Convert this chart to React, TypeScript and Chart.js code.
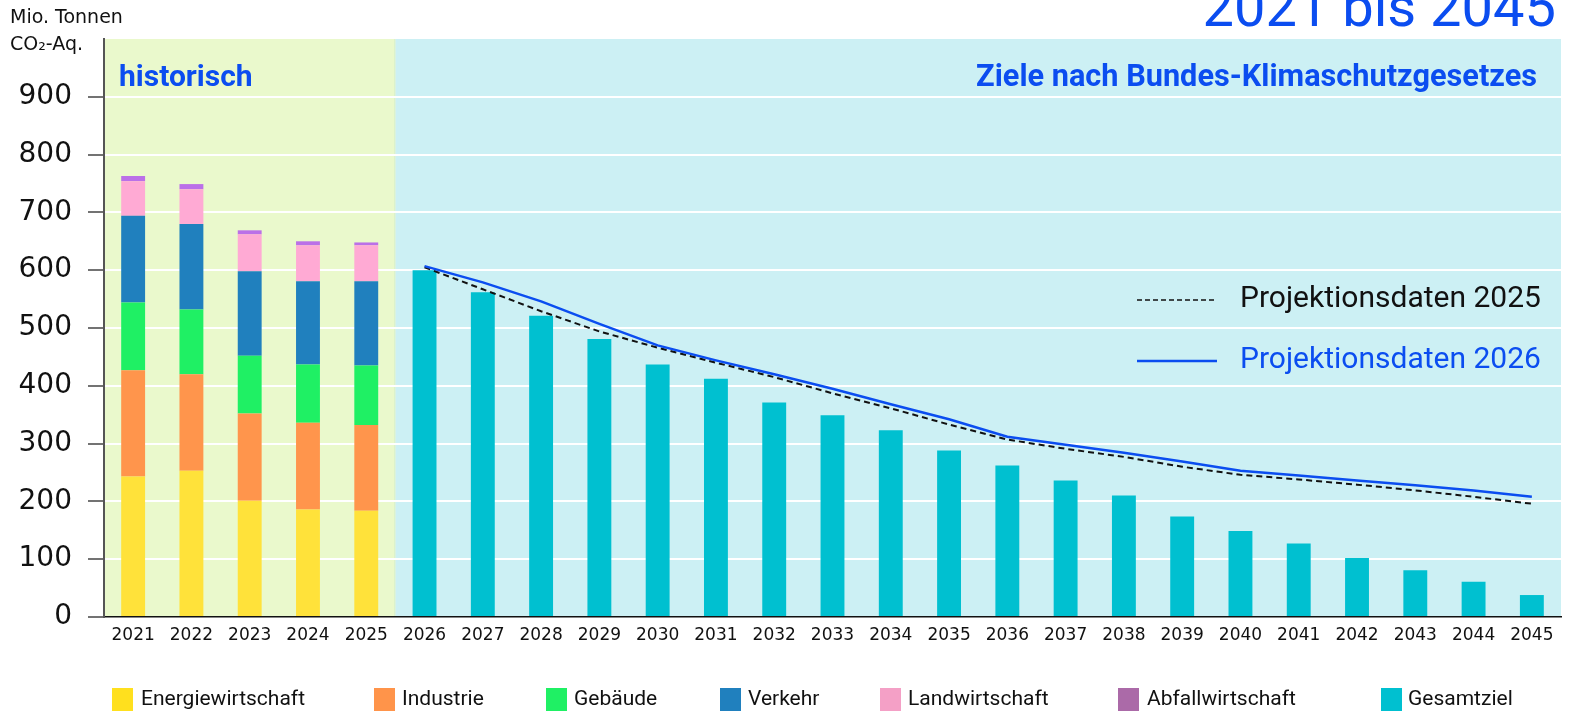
import { useEffect, useRef } from 'react';
import { Chart, registerables } from 'chart.js';

Chart.register(...registerables);

const YEARS = ['2021', '2022', '2023', '2024', '2025', '2026', '2027', '2028', '2029', '2030', '2031', '2032', '2033', '2034', '2035', '2036', '2037', '2038', '2039', '2040', '2041', '2042', '2043', '2044', '2045'];
const ENERGIE = [243, 253, 201, 186, 184];
const INDUSTRIE = [184, 167, 151, 150, 148];
const GEBAEUDE = [117, 112, 100, 101, 103];
const VERKEHR = [150, 148, 146, 144, 146];
const LANDWIRTSCHAFT = [60, 60, 64, 62, 62];
const ABFALL = [9, 9, 7, 7, 5];
const GESAMTZIEL = [600, 562, 521, 481, 437, 412, 371, 349, 323, 288, 262, 236, 210, 174, 149, 127, 102, 81, 61, 38];
const PROJ2025 = [605, 567, 529, 494, 466, 440, 415, 387, 361, 333, 307, 291, 277, 260, 246, 238, 229, 219, 208, 196];
const PROJ2026 = [607, 579, 546, 507, 470, 444, 420, 395, 368, 342, 312, 298, 284, 269, 253, 245, 236, 228, 219, 208];
const Y_TICKS = [0, 100, 200, 300, 400, 500, 600, 700, 800, 900];

const HIST_COUNT = ENERGIE.length;
const FUT_COUNT = GESAMTZIEL.length;
const padHist = (a: number[]) => [...a, ...Array(FUT_COUNT).fill(null)];
const padFut = (a: number[]) => [...Array(HIST_COUNT).fill(null), ...a];

const BLUE = '#0B4DF0';
const FONT = 'Roboto, "Noto Sans", sans-serif';
const WIDE = '"DejaVu Sans", sans-serif';

const SECTORS = [
  { label: 'Energiewirtschaft', data: ENERGIE, color: '#FFE23A', legend: '#FFE01E' },
  { label: 'Industrie', data: INDUSTRIE, color: '#FF954C', legend: '#FF944A' },
  { label: 'Gebäude', data: GEBAEUDE, color: '#1FF064', legend: '#1FF064' },
  { label: 'Verkehr', data: VERKEHR, color: '#2080BE', legend: '#2080BE' },
  { label: 'Landwirtschaft', data: LANDWIRTSCHAFT, color: '#FFAAD4', legend: '#F4A0C6' },
  { label: 'Abfallwirtschaft', data: ABFALL, color: '#BB70E8', legend: '#AB6AA8' },
];

const LEGEND_POS = [
  { box: 112, text: 141 },
  { box: 374, text: 402 },
  { box: 546, text: 574 },
  { box: 720, text: 748 },
  { box: 880, text: 908 },
  { box: 1118, text: 1147 },
  { box: 1381, text: 1408 },
];

const bgPlugin = {
  id: 'bgPlugin',
  beforeDraw(chart: any) {
    const { ctx, chartArea } = chart;
    const x = chart.scales.x;
    const split = (x.getPixelForTick(HIST_COUNT - 1) + x.getPixelForTick(HIST_COUNT)) / 2;
    ctx.save();
    ctx.fillStyle = '#EAF9CC';
    ctx.fillRect(chartArea.left, chartArea.top, split - chartArea.left, chartArea.bottom - chartArea.top);
    ctx.fillStyle = '#CCF0F4';
    ctx.fillRect(split, chartArea.top, chartArea.right - split, chartArea.bottom - chartArea.top);
    ctx.fillStyle = '#D2EDCB';
    ctx.fillRect(split - 1, chartArea.top, 1, chartArea.bottom - chartArea.top);
    ctx.restore();
  },
};

const textPlugin = {
  id: 'textPlugin',
  afterDraw(chart: any) {
    const { ctx } = chart;
    ctx.save();
    // axis title
    ctx.fillStyle = '#111';
    ctx.font = `19px ${WIDE}`;
    ctx.textBaseline = 'middle';
    ctx.textAlign = 'left';
    ctx.fillText('Mio. Tonnen', 10, 18);
    ctx.fillText('CO₂-Aq.', 10, 45);
    // main title (cut off)
    ctx.fillStyle = BLUE;
    ctx.font = `56px ${FONT}`;
    ctx.textAlign = 'right';
    ctx.textBaseline = 'alphabetic';
    ctx.fillText('2021 bis 2045', 1556, 26);
    // region labels
    ctx.font = `bold 30px ${FONT}`;
    ctx.textBaseline = 'middle';
    ctx.textAlign = 'left';
    ctx.fillText('historisch', 119, 78);
    ctx.font = `bold 30.7px ${FONT}`;
    ctx.textAlign = 'right';
    ctx.fillText('Ziele nach Bundes-Klimaschutzgesetzes', 1537, 78);
    // line legend
    ctx.textAlign = 'left';
    ctx.font = `30px ${FONT}`;
    ctx.strokeStyle = '#111';
    ctx.lineWidth = 1.5;
    ctx.setLineDash([5, 3]);
    ctx.beginPath();
    ctx.moveTo(1137, 300);
    ctx.lineTo(1214, 300);
    ctx.stroke();
    ctx.setLineDash([]);
    ctx.fillStyle = '#111';
    ctx.fillText('Projektionsdaten 2025', 1240, 299);
    ctx.strokeStyle = BLUE;
    ctx.lineWidth = 2.5;
    ctx.beginPath();
    ctx.moveTo(1137, 361);
    ctx.lineTo(1217, 361);
    ctx.stroke();
    ctx.fillStyle = BLUE;
    ctx.fillText('Projektionsdaten 2026', 1240, 360);
    // bottom legend
    const items = [...SECTORS.map((s) => ({ label: s.label, color: s.legend })), { label: 'Gesamtziel', color: '#00C0D0' }];
    ctx.font = `21px ${FONT}`;
    items.forEach((it, i) => {
      const p = LEGEND_POS[i];
      ctx.fillStyle = it.color;
      ctx.fillRect(p.box, 688, 21, 23);
      ctx.fillStyle = '#111';
      ctx.fillText(it.label, p.text, 700);
    });
    ctx.restore();
  },
};

export default function App() {
  const ref = useRef<HTMLCanvasElement>(null);
  useEffect(() => {
    document.body.style.margin = '0';
    const canvas = ref.current;
    if (!canvas) return;
    const datasets: any[] = [
      ...SECTORS.map((s) => ({
        type: 'bar',
        label: s.label,
        data: padHist(s.data),
        backgroundColor: s.color,
        stack: 'bars',
        barPercentage: 0.41,
        categoryPercentage: 1,
        order: 2,
      })),
      {
        type: 'bar',
        label: 'Gesamtziel',
        data: padFut(GESAMTZIEL),
        backgroundColor: '#00C0D0',
        stack: 'bars',
        barPercentage: 0.41,
        categoryPercentage: 1,
        order: 2,
      },
      {
        type: 'line',
        label: 'Projektionsdaten 2025',
        data: padFut(PROJ2025),
        borderColor: '#111',
        borderWidth: 2,
        borderDash: [6, 4],
        pointRadius: 0,
        tension: 0,
        fill: false,
        stack: 'l2025',
        order: 1,
      },
      {
        type: 'line',
        label: 'Projektionsdaten 2026',
        data: padFut(PROJ2026),
        borderColor: BLUE,
        borderWidth: 2.5,
        pointRadius: 0,
        tension: 0,
        fill: false,
        stack: 'l2026',
        order: 0,
      },
    ];
    const chart = new Chart(canvas, {
      type: 'bar',
      data: { labels: YEARS, datasets },
      options: {
        responsive: false,
        animation: false,
        layout: { padding: { top: 39, right: 10, left: 0, bottom: 0 } },
        plugins: { legend: { display: false }, tooltip: { enabled: false } },
        scales: {
          x: {
            stacked: true,
            grid: { display: false, drawTicks: false },
            border: { display: true, color: '#111', width: 1.5 },
            ticks: { color: '#111', font: { family: WIDE, size: 17 }, padding: 8, maxRotation: 0, autoSkip: false },
            afterFit: (s: any) => { s.height = 94; },
          },
          y: {
            stacked: true,
            min: 0,
            max: 1000,
            afterBuildTicks: (s: any) => { s.ticks = [...Y_TICKS, 1000].map((v) => ({ value: v })); },
            grid: {
              color: (c: any) => (c.tick && c.tick.value >= 1000 ? 'rgba(0,0,0,0)' : '#FFFFFF'),
              tickColor: (c: any) => (c.tick && c.tick.value >= 1000 ? 'rgba(0,0,0,0)' : '#444'),
              lineWidth: 2,
              tickLength: 16,
              tickWidth: 1.5,
            },
            border: { display: true, color: '#555', width: 2 },
            ticks: {
              color: '#111',
              font: { family: WIDE, size: 28 },
              padding: 16,
              callback: (v: any) => (v >= 1000 ? '' : String(v)),
            },
            afterFit: (s: any) => { s.width = 104; },
          },
        },
      },
      plugins: [bgPlugin, textPlugin],
    } as any);
    return () => chart.destroy();
  }, []);
  return (
    <div style={{ position: 'fixed', left: 0, top: 0, width: 1571, height: 711 }}>
      <canvas ref={ref} width={1571} height={711} style={{ display: 'block', width: 1571, height: 711 }} />
    </div>
  );
}
